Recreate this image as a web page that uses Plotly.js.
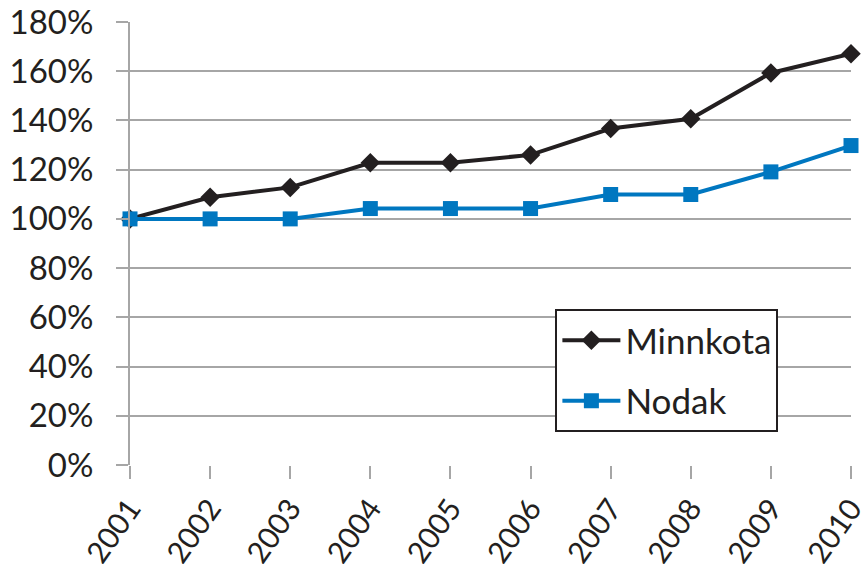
<!DOCTYPE html>
<html>
<head>
<meta charset="utf-8">
<script src="https://cdn.plot.ly/plotly-3.0.1.min.js"></script>
<style>html,body{margin:0;padding:0;background:#fff;}#chart{width:864px;height:564px;}</style>
</head>
<body>
<div id="chart"></div>
<script>
const years = ['2001','2002','2003','2004','2005','2006','2007','2008','2009','2010'];
const minnkota = [100, 108.8, 112.8, 122.8, 122.8, 126.0, 136.7, 140.7, 159.3, 167.1];
const nodak = [100, 100, 100, 104.2, 104.2, 104.2, 109.9, 109.9, 119.1, 129.8];
const yTicks = [0, 20, 40, 60, 80, 100, 120, 140, 160, 180];

const FONT = 'Lato, "Open Sans", "Liberation Sans", sans-serif';
const traces = [
  {x: years, y: minnkota, name: 'Minnkota', type: 'scatter', mode: 'lines+markers', legendgroup: 'a',
   line: {color: '#231f20', width: 4}, marker: {symbol: 'diamond', size: 15, color: '#231f20'},
   cliponaxis: false},
  {x: years, y: nodak, name: 'Nodak', type: 'scatter', mode: 'lines+markers', legendgroup: 'b',
   line: {color: '#0077c0', width: 4}, marker: {symbol: 'square', size: 15, color: '#0077c0'},
   cliponaxis: false}
];
const layout = {
  width: 864, height: 564,
  margin: {l: 130, r: 13, t: 22, b: 99},
  paper_bgcolor: '#fff', plot_bgcolor: '#fff',
  font: {family: FONT, size: 33, color: '#231f20'},
  showlegend: true,
  legend: {x: 0.59, y: 0.352, xanchor: 'left', yanchor: 'top',
    bordercolor: '#231f20', borderwidth: 2, bgcolor: '#fff', traceorder: 'grouped',
    font: {family: FONT, size: 35, color: '#231f20'}, tracegroupgap: 12, itemwidth: 58},
  xaxis: {type: 'category', range: [0, 9], showgrid: false, zeroline: false,
    showline: false, ticks: 'outside', ticklen: 13, tickwidth: 2, tickcolor: '#a6a6a6',
    tickangle: -55, tickfont: {family: FONT, size: 30, color: '#231f20'}, fixedrange: true},
  yaxis: {range: [0, 180], tickvals: yTicks, ticktext: yTicks.map(v => v + '%'),
    showgrid: true, gridcolor: '#a6a6a6', gridwidth: 2, zeroline: false,
    showline: true, linecolor: '#a6a6a6', linewidth: 2, ticklabelstandoff: 16,
    ticks: 'outside', ticklen: 12, tickwidth: 2, tickcolor: '#a6a6a6',
    tickfont: {family: FONT, size: 33, color: '#231f20'}, fixedrange: true}
};
Plotly.newPlot('chart', traces, layout, {displayModeBar: false, staticPlot: true});
</script>
</body>
</html>
